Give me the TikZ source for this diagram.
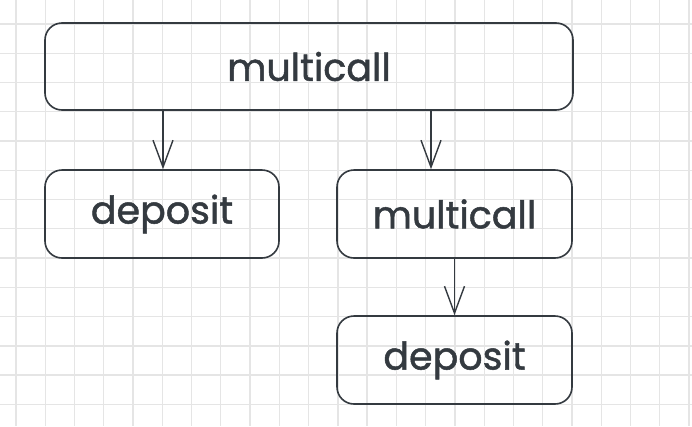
\documentclass[tikz,border=0pt]{standalone}
\usepackage{fontspec}
\setmainfont{Poppins}
\newfontfamily\hand{Poppins}[FakeBold=1.3]
\usetikzlibrary{arrows.meta}
\definecolor{ink}{HTML}{343A40}
\definecolor{gridc}{HTML}{E5E5E5}
\begin{document}
\begin{tikzpicture}[x=1pt,y=-1pt,
  box/.style={draw=ink, line width=1.6pt, rounded corners=17pt, inner sep=0pt,
    text=ink, font=\hand\fontsize{38}{44}\selectfont},
  arr/.style={draw=ink, line width=1.4pt, -{Straight Barb[length=27pt,width=20pt,line width=1.4pt]}}]
\useasboundingbox (0,0) rectangle (692,426);
\fill[white] (0,0) rectangle (692,426);
\foreach \i in {0,...,23} \draw[gridc, line width=1.3pt] (16+29.26*\i,0) -- (16+29.26*\i,426);
\foreach \j in {0,...,14} \draw[gridc, line width=1.3pt] (0,24+29.26*\j) -- (692,24+29.26*\j);
\node[box, minimum width=528pt, minimum height=87pt] (main) at (309,66.5) {multicall};
\node[box, minimum width=234pt, minimum height=88pt] (dep1) at (162,214) {deposit};
\node[box, minimum width=235pt, minimum height=88pt] (multi2) at (454.5,214) {multicall};
\node[box, minimum width=235pt, minimum height=88pt] (dep2) at (454.5,360) {deposit};
\coordinate (a1) at (163,0);
\coordinate (a2) at (431,0);
\draw[arr] (main.south -| a1) -- (dep1.north -| a1);
\draw[arr] (main.south -| a2) -- (multi2.north -| a2);
\draw[arr] (multi2.south) -- (dep2.north);
\end{tikzpicture}
\end{document}
